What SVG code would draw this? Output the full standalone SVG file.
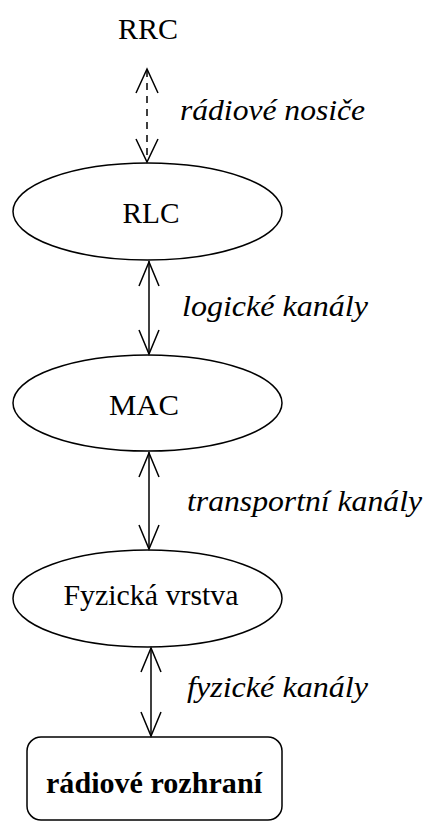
<svg xmlns="http://www.w3.org/2000/svg" width="427" height="822" viewBox="0 0 427 822">
<style>
.t{font-family:'Liberation Serif','Times New Roman',serif;font-size:30px;fill:#000}
.i{font-style:italic}
.b{font-weight:bold}
.s{fill:none;stroke:#000;stroke-width:1.5}
.n{fill:#fff;stroke:#000;stroke-width:1.5}
</style>
<rect width="427" height="822" fill="#fff"/>
<g id="rrc"><text class="t" x="148" y="39" text-anchor="middle" textLength="60" lengthAdjust="spacingAndGlyphs">RRC</text></g>
<g id="rlc"><ellipse class="n" cx="147.5" cy="211.5" rx="134.5" ry="48.5"/><text class="t" x="151" y="223" text-anchor="middle" textLength="57" lengthAdjust="spacingAndGlyphs">RLC</text></g>
<g id="mac"><ellipse class="n" cx="147.5" cy="403" rx="134.5" ry="48"/><text class="t" x="144" y="415" text-anchor="middle" textLength="70" lengthAdjust="spacingAndGlyphs">MAC</text></g>
<g id="phy"><ellipse class="n" cx="147.5" cy="598.5" rx="134.5" ry="48.5"/><text class="t" x="151" y="605" text-anchor="middle" textLength="175" lengthAdjust="spacingAndGlyphs">Fyzická vrstva</text></g>
<g id="radio"><rect class="n" x="27" y="737" width="255" height="83" rx="14"/><text class="t b" x="154" y="793" text-anchor="middle" textLength="216" lengthAdjust="spacingAndGlyphs">rádiové rozhraní</text></g>
<g id="connectors">
<line class="s" x1="147" y1="70" x2="147" y2="161" stroke-dasharray="7,6"/>
<polyline class="s" points="136,93 147,69 158,93"/>
<polyline class="s" points="136,139 147,162 158,139"/>
<line class="s" x1="149" y1="261" x2="149" y2="354"/>
<polyline class="s" points="139,286 149,262 159,286"/>
<polyline class="s" points="139,330 149,354 159,330"/>
<line class="s" x1="149" y1="452" x2="149" y2="549"/>
<polyline class="s" points="139,477 149,453 159,477"/>
<polyline class="s" points="139,525 149,549 159,525"/>
<line class="s" x1="151" y1="648" x2="151" y2="736"/>
<polyline class="s" points="141,672 151,648 161,672"/>
<polyline class="s" points="141,712 151,736 161,712"/>
</g>
<g id="labels">
<text class="t i" x="180" y="120" textLength="185" lengthAdjust="spacingAndGlyphs">rádiové nosiče</text>
<text class="t i" x="182" y="316" textLength="186" lengthAdjust="spacingAndGlyphs">logické kanály</text>
<text class="t i" x="187" y="511" textLength="235" lengthAdjust="spacingAndGlyphs">transportní kanály</text>
<text class="t i" x="187" y="697" textLength="181" lengthAdjust="spacingAndGlyphs">fyzické kanály</text>
</g>
</svg>
